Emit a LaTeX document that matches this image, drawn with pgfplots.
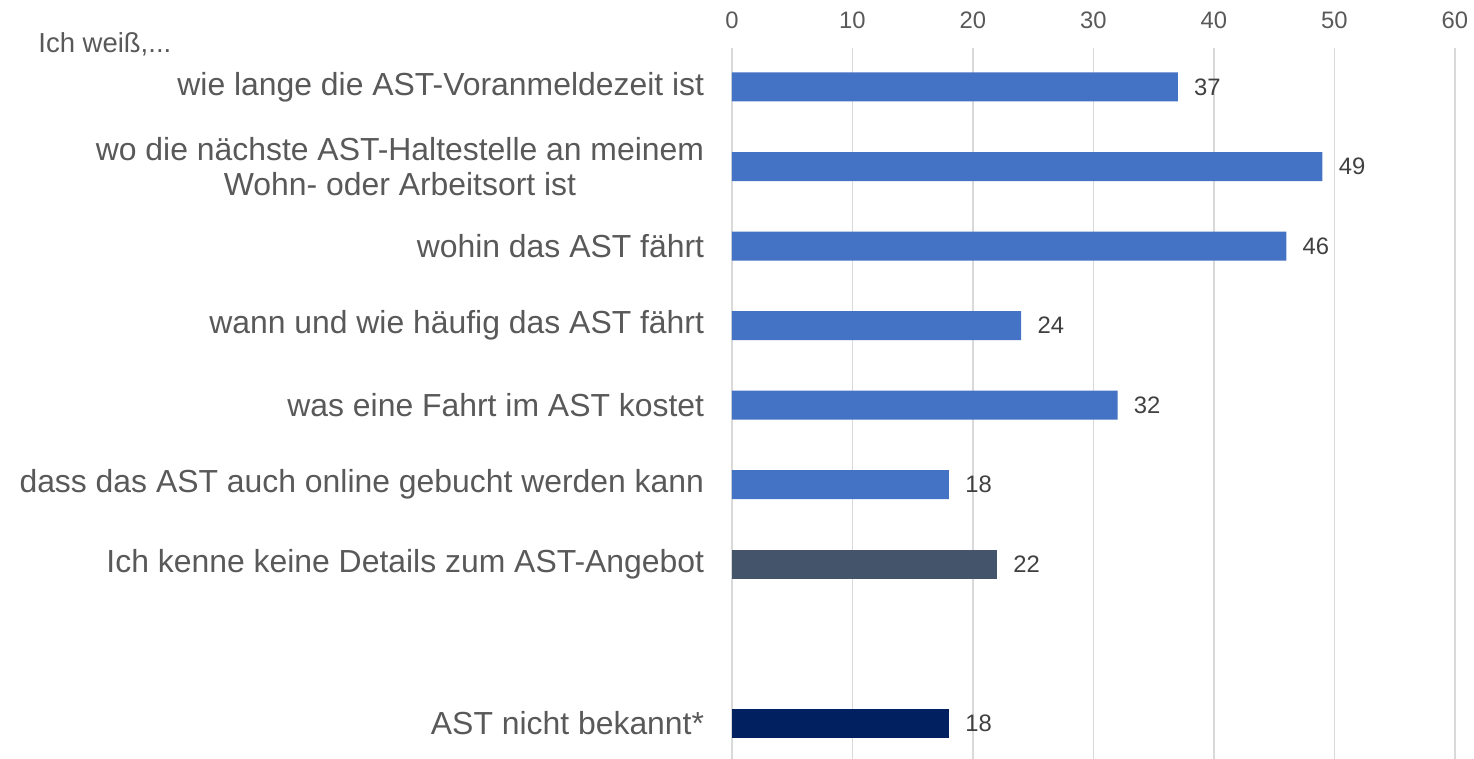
\documentclass[border=0pt]{standalone}
\usepackage{pgfplots}
\pgfplotsset{compat=1.18}
\usepackage{fontspec}
\setmainfont{Liberation Sans}
\definecolor{barblue}{HTML}{4472C4}
\definecolor{barslate}{HTML}{44546A}
\definecolor{barnavy}{HTML}{002060}
\definecolor{txtgray}{HTML}{595959}
\definecolor{lblgray}{HTML}{404040}
\definecolor{gridgray}{HTML}{D9D9D9}
\begin{document}
\begin{tikzpicture}
\useasboundingbox (-366pt,0pt) rectangle (371pt,379.5pt);
\begin{axis}[name=ax, at={(0pt,0pt)}, anchor=south west,
 scale only axis, width=361.5pt, height=355.5pt,
 xbar, bar width=14.5pt, bar shift=0pt,
 xmin=0, xmax=60, ymin=-0.49, ymax=8.45, y dir=reverse,
 xtick={0,10,...,60}, xticklabel pos=upper,
 ytick={0,1,2,3,4,5,6,8},
 yticklabels={wie lange die AST-Voranmeldezeit ist,
   {wo die nächste AST-Haltestelle an meinem\\Wohn- oder Arbeitsort ist},
   wohin das AST fährt,
   wann und wie häufig das AST fährt,
   was eine Fahrt im AST kostet,
   dass das AST auch online gebucht werden kann,
   Ich kenne keine Details zum AST-Angebot,
   AST nicht bekannt*},
 axis line style={draw=none}, major tick style={draw=none},
 xmajorgrids, grid style={gridgray, line width=0.75pt},
 /pgf/number format/assume math mode=true,
 xticklabel style={font=\fontsize{11.9}{14}\selectfont, text=txtgray, anchor=center, yshift=14pt},
 yticklabel style={font=\fontsize{15.95}{17.8}\selectfont, text=txtgray, align=center, anchor=east, inner sep=0pt, xshift=-9.5pt},
 nodes near coords, nodes near coords style={font=\fontsize{11.9}{14}\selectfont, text=lblgray, anchor=west, inner sep=0pt, xshift=8pt},
]
\addplot[draw=none, fill=barblue] coordinates {(37,0) (49,1) (46,2) (24,3) (32,4) (18,5)};
\addplot[draw=none, fill=barslate] coordinates {(22,6)};
\addplot[draw=none, fill=barnavy] coordinates {(18,8)};
\end{axis}
\node[anchor=base west, inner sep=0pt, font=\fontsize{13.75}{16}\selectfont, text=txtgray] at ([shift={(-347pt,-2.5pt)}]ax.north west) {Ich weiß,...};
\end{tikzpicture}
\end{document}
